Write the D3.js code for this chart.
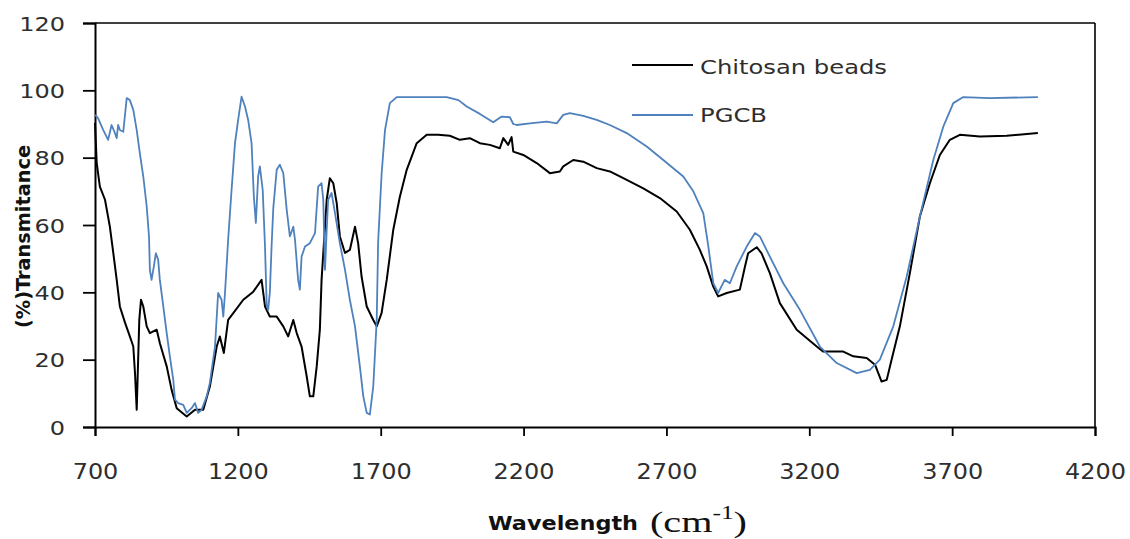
<!DOCTYPE html>
<html>
<head>
<meta charset="utf-8">
<script src="https://cdn.jsdelivr.net/npm/d3@7"></script>
<style>
  html, body { margin: 0; padding: 0; background: #fff; }
  svg { display: block; }
</style>
</head>
<body>
<svg id="chart" width="1130" height="539"></svg>
<script>
// ---- Data ----
const seriesNames = ["Chitosan beads", "PGCB"];
const seriesColors = ["#000000", "#4f81bd"];

const wavenumberChitosan = [700,706,717,735,752,764,776,787,805,822,834,840,846,855,861,869,881,892,916,927,951,968,986,1021,1050,1079,1102,1126,1137,1151,1166,1184,1219,1254,1283,1295,1312,1336,1359,1376,1394,1406,1423,1441,1452,1464,1476,1487,1493,1505,1511,1522,1534,1546,1557,1575,1592,1610,1621,1633,1651,1674,1686,1703,1721,1744,1767,1791,1826,1861,1901,1942,1977,2012,2047,2082,2117,2129,2146,2158,2164,2199,2246,2292,2327,2339,2374,2409,2456,2502,2549,2619,2677,2736,2782,2817,2841,2864,2881,2911,2957,2975,2986,3016,3033,3062,3097,3156,3226,3249,3319,3354,3401,3430,3453,3471,3488,3517,3552,3587,3622,3657,3692,3727,3797,3891,4000];
const transChitosan = [90.3,78.4,71.4,67.5,59.5,51.7,43.7,35.8,31,26.9,23.9,16,5.1,31.8,37.8,35.8,29.9,27.9,28.9,24.9,18,11.1,5.6,3.1,5.1,5.1,12,23.9,26.9,22,31.8,33.8,37.8,40.2,43.7,35.8,32.8,32.8,29.9,26.9,31.8,27.9,23.9,15,9.1,9.1,18,28.9,43.7,59.5,67.5,73.9,72.4,66.5,56.6,51.7,52.6,59.5,54.6,44.7,35.8,31.8,29.9,33.8,43.7,58.6,68.4,76.4,84.3,86.8,86.8,86.5,85.3,85.8,84.3,83.8,82.8,85.8,83.8,86.1,81.8,80.8,78.4,75.4,75.9,77.4,79.3,78.8,76.9,75.9,73.9,70.9,68,64,58.6,52.6,47.7,41.7,38.8,39.8,40.8,47.7,51.6,53.4,51.6,45.7,36.8,28.9,23.9,22.4,22.4,21,20.5,18.5,13.5,14,20,29.9,45.7,62.5,72.4,80.8,85.3,86.8,86.3,86.5,87.3];

const wavenumberPGCB = [700,706,711,729,746,758,770,776,781,787,799,811,822,834,846,857,869,881,889,892,898,906,913,921,927,939,951,962,974,980,991,1009,1021,1038,1050,1061,1073,1091,1102,1120,1131,1143,1149,1155,1166,1178,1190,1201,1213,1225,1236,1248,1256,1263,1271,1277,1287,1295,1301,1306,1312,1318,1324,1336,1347,1359,1371,1382,1394,1400,1411,1417,1423,1435,1452,1470,1481,1493,1499,1505,1511,1516,1528,1540,1557,1575,1592,1610,1627,1639,1651,1662,1674,1686,1691,1703,1715,1732,1756,1837,1931,1972,2001,2047,2094,2123,2152,2164,2176,2222,2281,2316,2339,2362,2409,2456,2502,2561,2631,2689,2759,2794,2829,2846,2864,2881,2904,2922,2946,2981,3010,3027,3062,3109,3167,3237,3296,3366,3412,3447,3494,3541,3587,3634,3669,3704,3739,3832,4000];
const transPGCB = [92.7,92.2,91.7,88.2,85.3,89.7,87.3,85.8,89.7,88.2,87.7,97.7,97.1,94.2,88.2,81.3,74.4,65.5,56.6,46.7,43.7,47.7,51.6,49.7,43.7,35.8,27.9,21,14,8.1,7.1,6.6,4.2,5.6,7.1,4.2,5.1,9.1,13.1,23.9,39.8,37.8,32.8,39.8,55.6,70.4,84.3,91.2,98.1,95.2,91.2,84.3,68.4,60.6,74.4,77.4,70.4,53.6,36,34.8,40,53.6,65,76.4,77.9,75.4,64.5,56.6,59.5,55.6,43.7,40.8,50.6,53.6,54.6,57.6,71.4,72.4,67.5,46.7,58.6,67.5,69.5,63.5,54.6,46.7,37.8,29.9,18,9.1,4.2,3.7,12.1,31.8,55,75,88.2,96.2,98,98,98,97.1,95.2,93,90.5,92.2,92,90,89.7,90.2,90.7,90.2,92.7,93.2,92.4,91.2,89.7,87.3,83.3,79.3,74.4,70,63.5,54,42.7,39.8,43.7,42.7,47.7,53.6,57.6,56.6,50.6,42.7,34.8,23.9,19,16,17,20,29.9,44.7,62.5,79.3,89.2,96.2,98,97.7,98];

const xTicks = [700,1200,1700,2200,2700,3200,3700,4200];
const yTicks = [0,20,40,60,80,100,120];
const xTitle = "Wavelength";
const yTitle = "(%)Transmitance";

// ---- Layout ----
const svg = d3.select("#chart");
const plot = {left: 95, right: 1095, top: 23, bottom: 427};
const x = d3.scaleLinear().domain([700, 4200]).range([plot.left, plot.right]);
const y = d3.scaleLinear().domain([0, 120]).range([plot.bottom, plot.top]);

const labelColor = "#2e2e2e";
const tickFont = "'DejaVu Sans', Verdana, sans-serif";

function stretch(sel, factor) {
  sel.each(function() {
    const len = this.getComputedTextLength();
    d3.select(this).attr("textLength", len * factor).attr("lengthAdjust", "spacingAndGlyphs");
  });
}
function fitWidth(sel, w) {
  sel.attr("textLength", w).attr("lengthAdjust", "spacingAndGlyphs");
}

// Frame (top and right border)
svg.append("line").attr("x1", plot.left).attr("x2", plot.right)
  .attr("y1", plot.top).attr("y2", plot.top).attr("stroke", "#000").attr("stroke-width", 1.6);
svg.append("line").attr("x1", plot.right).attr("x2", plot.right)
  .attr("y1", plot.top).attr("y2", plot.bottom).attr("stroke", "#000").attr("stroke-width", 1.6);

// Axes
const xAxis = d3.axisBottom(x).tickValues(xTicks).tickSize(9).tickPadding(0).tickFormat(d3.format("d"));
const gx = svg.append("g").attr("transform", `translate(0,${plot.bottom})`).call(xAxis);
gx.select(".domain").attr("stroke", "#000").attr("stroke-width", 2);
gx.selectAll(".tick line").attr("stroke", "#000").attr("stroke-width", 1.8);
gx.selectAll(".tick text")
  .attr("y", 52).attr("dy", 0)
  .attr("fill", labelColor).attr("font-family", tickFont).attr("font-size", 21);
stretch(gx.selectAll(".tick text"), 1.14);

const yAxis = d3.axisLeft(y).tickValues(yTicks).tickSize(12).tickPadding(18).tickFormat(d3.format("d"));
const gy = svg.append("g").attr("transform", `translate(${plot.left},0)`).call(yAxis);
gy.select(".domain").attr("stroke", "#000").attr("stroke-width", 2);
gy.selectAll(".tick line").attr("stroke", "#000").attr("stroke-width", 1.8);
gy.selectAll(".tick text")
  .attr("fill", labelColor).attr("font-family", tickFont).attr("font-size", 20)
  .attr("dy", "0.35em").attr("x", -30);
stretch(gy.selectAll(".tick text"), 1.2);

// Series
const line = d3.line().x(d => x(d[0])).y(d => y(d[1]));
const chitosan = wavenumberChitosan.map((w, i) => [w, transChitosan[i]]);
const pgcb = wavenumberPGCB.map((w, i) => [w, transPGCB[i]]);

svg.append("path").datum(chitosan).attr("d", line)
  .attr("fill", "none").attr("stroke", seriesColors[0]).attr("stroke-width", 2)
  .attr("stroke-linejoin", "round");
svg.append("path").datum(pgcb).attr("d", line)
  .attr("fill", "none").attr("stroke", seriesColors[1]).attr("stroke-width", 1.8)
  .attr("stroke-linejoin", "round");

// Legend
const legendRows = [{y: 65, ty: 74, w: 187}, {y: 115, ty: 122, w: 67}];
seriesNames.forEach((name, i) => {
  const r = legendRows[i];
  svg.append("line").attr("x1", 632).attr("x2", 693).attr("y1", r.y).attr("y2", r.y)
    .attr("stroke", seriesColors[i]).attr("stroke-width", i === 0 ? 2 : 1.8);
  const t = svg.append("text").attr("x", 700).attr("y", r.ty)
    .attr("fill", labelColor).attr("font-family", tickFont).attr("font-size", 20)
    .text(name);
  fitWidth(t, r.w);
});

// X axis title
const xt = svg.append("text").attr("x", 488).attr("y", 530)
  .attr("font-family", tickFont).attr("font-weight", "bold").attr("font-size", 20)
  .attr("fill", "#111").text(xTitle);
fitWidth(xt, 150);

const unit = svg.append("text").attr("x", 650).attr("y", 532)
  .attr("font-family", "'Liberation Serif', 'Times New Roman', serif").attr("font-size", 30)
  .attr("fill", "#111");
unit.append("tspan").text("(cm");
unit.append("tspan").attr("font-size", 19).attr("dy", -13).text("-1");
unit.append("tspan").attr("dy", 13).text(")");
fitWidth(unit, 97);

// Y axis title
const yt = svg.append("text")
  .attr("transform", "translate(30,236.5) rotate(-90)")
  .attr("text-anchor", "middle")
  .attr("font-family", tickFont).attr("font-weight", "bold").attr("font-size", 19)
  .attr("fill", "#111").text(yTitle);
fitWidth(yt, 183);
</script>
</body>
</html>
